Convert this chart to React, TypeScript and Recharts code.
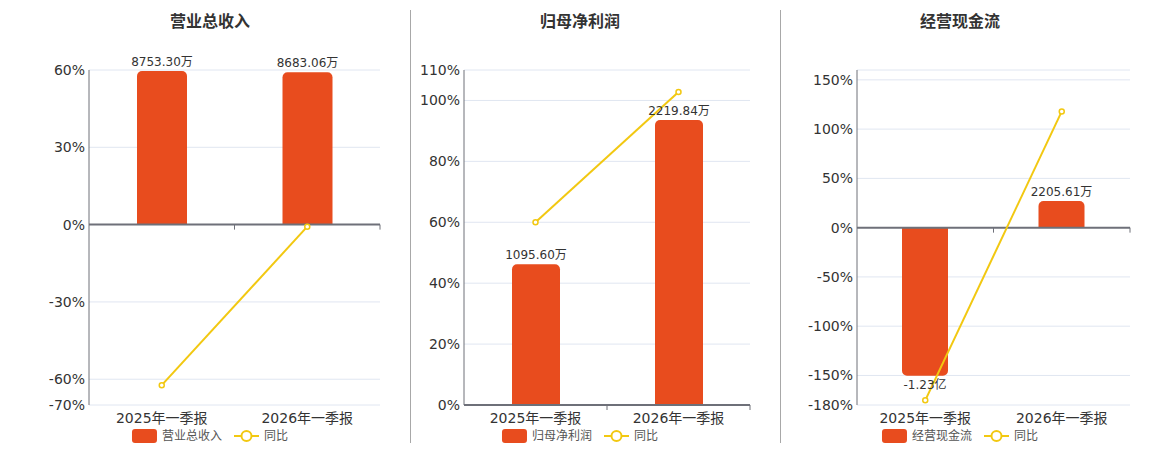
import { ComposedChart, Bar, Line, XAxis, YAxis, CartesianGrid, ReferenceLine, LabelList } from "recharts";

const periods = ["2025年一季报", "2026年一季报"];

// 营业总收入 (万元) and 同比 (%)
const revenue = [8753.3, 8683.06];
const revenueLabels = ["8753.30万", "8683.06万"];
const revenueYoy = [-62.3, -0.8];
const revenueTicks = [-70, -60, -30, 0, 30, 60];

// 归母净利润 (万元) and 同比 (%)
const profit = [1095.6, 2219.84];
const profitLabels = ["1095.60万", "2219.84万"];
const profitYoy = [60.0, 102.8];
const profitTicks = [0, 20, 40, 60, 80, 100, 110];

// 经营现金流 (万元) and 同比 (%)
const cashflow = [-12300, 2205.61];
const cashflowLabels = ["-1.23亿", "2205.61万"];
const cashflowYoy = [-175.3, 118.0];
const cashflowTicks = [-180, -150, -100, -50, 0, 50, 100, 150, 160];

const BAR_COLOR = "#e84c1e";
const LINE_COLOR = "#f2c811";
const AXIS_COLOR = "#6e7079";
const FONT = '"DejaVu Sans", "Noto Sans CJK SC", sans-serif';

function ZeroAxis(props: any) {
  const { x1, y1, x2, y2 } = props;
  const n = periods.length;
  return (
    <g>
      <line x1={x1} y1={y1} x2={x2} y2={y2} stroke={AXIS_COLOR} strokeWidth={2} />
      {periods.map((_, i) => {
        const x = x1 + ((x2 - x1) * (i + 1)) / n;
        return <line key={i} x1={x} x2={x} y1={y1} y2={y1 + 5} stroke={AXIS_COLOR} strokeWidth={1} />;
      })}
    </g>
  );
}

type PanelProps = {
  title: string;
  center: number;
  left: number;
  width: number;
  yAxisWidth: number;
  barSize: number;
  values: number[];
  labels: string[];
  yoy: number[];
  ticks: number[];
  amtDomain: [number, number];
  hideTick?: number;
};

function Panel(p: PanelProps) {
  const data = periods.map((period, i) => ({
    period,
    amt: p.values[i],
    label: p.labels[i],
    yoy: p.yoy[i],
  }));
  const pctDomain: [number, number] = [p.ticks[0], p.ticks[p.ticks.length - 1]];
  return (
    <>
      <div
        style={{
          position: "absolute",
          left: p.center,
          top: 12,
          transform: "translateX(-50%)",
          fontSize: 16,
          fontWeight: "bold",
          lineHeight: "20px",
          color: "#333",
          whiteSpace: "nowrap",
        }}
      >
        {p.title}
      </div>
      <div style={{ position: "absolute", left: p.left, top: 0 }}>
        <ComposedChart
          width={p.width}
          height={450}
          data={data}
          margin={{ top: 70, right: 30, bottom: 15, left: 0 }}
        >
          <CartesianGrid yAxisId="pct" vertical={false} stroke="#e0e6f1" />
          <XAxis
            dataKey="period"
            axisLine={false}
            tickLine={false}
            height={30}
            tick={{ fontSize: 14, fill: "#333" }}
          />
          <YAxis
            yAxisId="pct"
            domain={pctDomain}
            ticks={p.ticks}
            interval={0}
            width={p.yAxisWidth}
            tickFormatter={(v: number) => (v === p.hideTick ? "" : `${v}%`)}
            axisLine={{ stroke: AXIS_COLOR }}
            tickLine={false}
            tickSize={0}
            tickMargin={4}
            tick={{ fontSize: 14, fill: "#333" }}
          />
          <YAxis yAxisId="amt" orientation="right" hide domain={p.amtDomain} />
          <Bar
            yAxisId="amt"
            dataKey="amt"
            fill={BAR_COLOR}
            barSize={p.barSize}
            radius={[5, 5, 0, 0]}
            isAnimationActive={false}
          >
            <LabelList dataKey="label" position="top" fontSize={12} fill="#333" />
          </Bar>
          <ReferenceLine yAxisId="pct" y={0} shape={<ZeroAxis />} />
          <Line
            yAxisId="pct"
            dataKey="yoy"
            stroke={LINE_COLOR}
            strokeWidth={2}
            dot={{ r: 2.5, fill: "#fff", stroke: LINE_COLOR, strokeWidth: 1.5 }}
            isAnimationActive={false}
          />
        </ComposedChart>
      </div>
      <div
        style={{
          position: "absolute",
          left: p.center,
          top: 428,
          transform: "translateX(-50%)",
          display: "flex",
          alignItems: "center",
          fontSize: 12,
          color: "#555",
          whiteSpace: "nowrap",
          lineHeight: "16px",
        }}
      >
        <span style={{ width: 25, height: 14, borderRadius: 3, background: BAR_COLOR, marginRight: 5 }} />
        <span style={{ marginRight: 12 }}>{p.title}</span>
        <svg width={25} height={14} style={{ marginRight: 5 }}>
          <line x1={0} y1={7} x2={25} y2={7} stroke={LINE_COLOR} strokeWidth={2} />
          <circle cx={12.5} cy={7} r={5} fill="#fff" stroke={LINE_COLOR} strokeWidth={2} />
        </svg>
        <span>同比</span>
      </div>
    </>
  );
}

export default function App() {
  return (
    <div
      style={{
        position: "absolute",
        left: 0,
        top: 0,
        width: 1160,
        height: 450,
        background: "#fff",
        fontFamily: FONT,
      }}
    >
      <div style={{ position: "absolute", left: 410, top: 10, width: 1, height: 433, background: "#a8a8a8" }} />
      <div style={{ position: "absolute", left: 780, top: 10, width: 1, height: 433, background: "#a8a8a8" }} />
      <Panel
        title="营业总收入"
        center={210}
        left={30}
        width={380}
        yAxisWidth={59}
        barSize={50}
        values={revenue}
        labels={revenueLabels}
        yoy={revenueYoy}
        ticks={revenueTicks}
        amtDomain={[-10278, 8810]}
      />
      <Panel
        title="归母净利润"
        center={580}
        left={410}
        width={370}
        yAxisWidth={54}
        barSize={48}
        values={profit}
        labels={profitLabels}
        yoy={profitYoy}
        ticks={profitTicks}
        amtDomain={[0, 2609]}
      />
      <Panel
        title="经营现金流"
        center={960}
        left={780}
        width={380}
        yAxisWidth={77}
        barSize={46}
        values={cashflow}
        labels={cashflowLabels}
        yoy={cashflowYoy}
        ticks={cashflowTicks}
        amtDomain={[-14740, 13100]}
        hideTick={160}
      />
    </div>
  );
}
